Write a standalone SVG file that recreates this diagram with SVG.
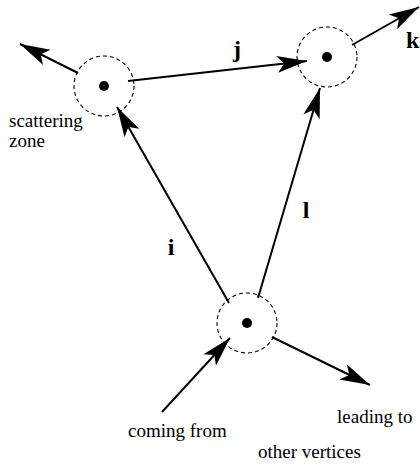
<svg xmlns="http://www.w3.org/2000/svg" width="420" height="465" viewBox="0 0 420 465">
<defs>
<marker id="ah" markerUnits="userSpaceOnUse" markerWidth="40" markerHeight="24" viewBox="-32 -12 40 24" refX="0" refY="0" orient="auto">
<path d="M0,0 L-30,-8.5 L-23,0 L-30,8.5 Z" fill="#000"/>
</marker>
</defs>
<style>
.zone{fill:none;stroke:#000;stroke-width:1.1;stroke-dasharray:4 3}
.dot{fill:#000}
.edge{fill:none;stroke:#000;stroke-width:2;marker-end:url(#ah)}
.lbl{font-family:"Liberation Serif","Times New Roman",serif;font-size:19px;fill:#000}
.bold{font-family:"Liberation Serif","Times New Roman",serif;font-size:24px;font-weight:bold;fill:#000}
</style>
<rect width="420" height="465" fill="#fff"/>
<g id="vertex-left">
<circle class="zone" cx="104" cy="86" r="30"/>
<circle class="dot" cx="104" cy="86" r="5"/>
</g>
<g id="vertex-right">
<circle class="zone" cx="327" cy="57" r="30"/>
<circle class="dot" cx="327" cy="57" r="5"/>
</g>
<g id="vertex-bottom">
<circle class="zone" cx="247" cy="323" r="30"/>
<circle class="dot" cx="247" cy="323" r="5"/>
</g>
<g id="connectors">
<line class="edge" x1="78" y1="73" x2="20" y2="44"/>
<line class="edge" x1="128" y1="81" x2="307" y2="61"/>
<line class="edge" x1="352" y1="45" x2="419" y2="7"/>
<line class="edge" x1="229" y1="303" x2="117" y2="107"/>
<line class="edge" x1="258" y1="298" x2="320" y2="88"/>
<line class="edge" x1="162" y1="412" x2="230" y2="338"/>
<line class="edge" x1="272" y1="337" x2="370" y2="385"/>
</g>
<g id="labels">
<text class="bold" x="237" y="57" text-anchor="middle">j</text>
<text class="bold" x="406" y="48">k</text>
<text class="bold" x="171" y="255" text-anchor="middle">i</text>
<text class="bold" x="306" y="218" text-anchor="middle">l</text>
<text class="lbl" x="9" y="127">scattering</text>
<text class="lbl" x="9" y="147">zone</text>
<text class="lbl" x="128" y="437">coming from</text>
<text class="lbl" x="337" y="423">leading to</text>
<text class="lbl" x="258" y="458">other vertices</text>
</g>
</svg>
